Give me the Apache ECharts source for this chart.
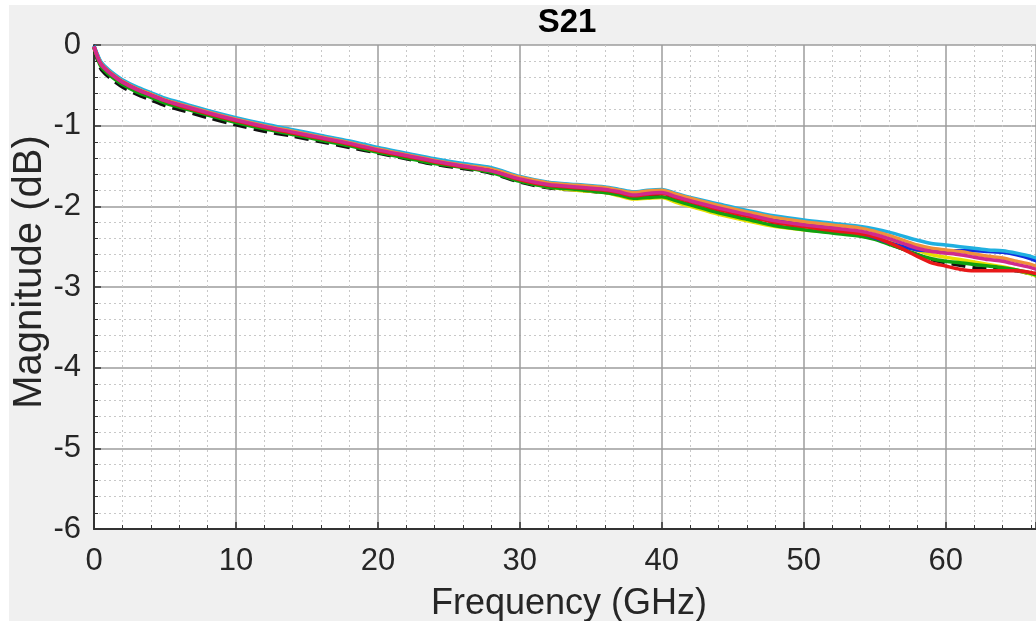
<!DOCTYPE html>
<html>
<head>
<meta charset="utf-8">
<script src="https://cdn.jsdelivr.net/npm/echarts@6/dist/echarts.min.js"></script>
<style>
html,body{margin:0;padding:0;background:#ffffff;width:1036px;height:621px;overflow:hidden;}
#c{position:absolute;left:9px;top:5px;width:1027px;height:616px;background:#f0f0f0;}
</style>
</head>
<body>
<div id="c"></div>
<script>
const freq = [0,0.25,0.5,1,1.5,2,3,4,5,6,8,10,12,14,16,18,20,22,24,26,28,30,32,34,36,37,38,39,40,41,42,44,46,48,50,52,54,55,56,57,58,59,60,61,62,63,64,65,66,67];
const blackDashed = [-0.03,-0.19,-0.30,-0.39,-0.46,-0.52,-0.61,-0.68,-0.75,-0.80,-0.90,-0.99,-1.07,-1.13,-1.20,-1.27,-1.34,-1.41,-1.48,-1.53,-1.59,-1.70,-1.77,-1.80,-1.83,-1.86,-1.90,-1.88,-1.87,-1.92,-1.97,-2.07,-2.15,-2.23,-2.28,-2.32,-2.36,-2.40,-2.46,-2.53,-2.60,-2.66,-2.70,-2.73,-2.76,-2.77,-2.78,-2.80,-2.84,-2.90];
const yellow = [-0.02,-0.15,-0.25,-0.34,-0.41,-0.47,-0.56,-0.63,-0.70,-0.75,-0.85,-0.94,-1.02,-1.09,-1.16,-1.23,-1.31,-1.38,-1.45,-1.51,-1.57,-1.68,-1.76,-1.80,-1.83,-1.87,-1.91,-1.90,-1.89,-1.95,-2.00,-2.10,-2.18,-2.25,-2.29,-2.32,-2.35,-2.38,-2.43,-2.49,-2.55,-2.60,-2.63,-2.66,-2.69,-2.72,-2.75,-2.79,-2.84,-2.90];
const green = [-0.03,-0.17,-0.27,-0.36,-0.43,-0.49,-0.58,-0.65,-0.72,-0.77,-0.87,-0.96,-1.04,-1.11,-1.18,-1.25,-1.33,-1.40,-1.47,-1.52,-1.58,-1.69,-1.76,-1.79,-1.83,-1.86,-1.90,-1.89,-1.88,-1.93,-1.98,-2.08,-2.16,-2.24,-2.29,-2.33,-2.37,-2.41,-2.47,-2.53,-2.60,-2.65,-2.68,-2.70,-2.72,-2.74,-2.76,-2.79,-2.83,-2.89];
const blue = [-0.01,-0.13,-0.22,-0.31,-0.38,-0.44,-0.53,-0.60,-0.67,-0.72,-0.82,-0.91,-0.99,-1.06,-1.13,-1.20,-1.28,-1.35,-1.42,-1.48,-1.53,-1.64,-1.71,-1.74,-1.78,-1.81,-1.85,-1.83,-1.82,-1.87,-1.92,-2.01,-2.09,-2.17,-2.22,-2.27,-2.33,-2.39,-2.45,-2.50,-2.54,-2.55,-2.55,-2.55,-2.55,-2.56,-2.57,-2.60,-2.65,-2.72];
const cyan = [-0.01,-0.12,-0.21,-0.30,-0.37,-0.43,-0.52,-0.59,-0.66,-0.71,-0.81,-0.90,-0.98,-1.05,-1.12,-1.19,-1.27,-1.34,-1.41,-1.47,-1.52,-1.63,-1.70,-1.73,-1.76,-1.79,-1.82,-1.80,-1.79,-1.84,-1.89,-1.97,-2.05,-2.12,-2.17,-2.21,-2.25,-2.28,-2.32,-2.37,-2.42,-2.46,-2.48,-2.50,-2.52,-2.54,-2.55,-2.58,-2.62,-2.68];
const orange = [-0.02,-0.14,-0.23,-0.32,-0.39,-0.45,-0.54,-0.61,-0.68,-0.73,-0.83,-0.92,-1.00,-1.07,-1.14,-1.21,-1.29,-1.36,-1.43,-1.49,-1.54,-1.64,-1.71,-1.74,-1.77,-1.80,-1.83,-1.81,-1.80,-1.85,-1.90,-1.99,-2.07,-2.14,-2.19,-2.23,-2.27,-2.31,-2.36,-2.42,-2.48,-2.52,-2.54,-2.56,-2.59,-2.62,-2.64,-2.68,-2.72,-2.78];
const red = [-0.02,-0.15,-0.24,-0.33,-0.40,-0.46,-0.55,-0.62,-0.69,-0.75,-0.85,-0.94,-1.02,-1.09,-1.16,-1.23,-1.31,-1.38,-1.45,-1.51,-1.56,-1.67,-1.74,-1.77,-1.80,-1.83,-1.87,-1.85,-1.84,-1.89,-1.94,-2.04,-2.12,-2.20,-2.25,-2.30,-2.34,-2.38,-2.45,-2.53,-2.62,-2.70,-2.74,-2.78,-2.80,-2.80,-2.80,-2.80,-2.82,-2.86];
const magenta = [-0.02,-0.15,-0.24,-0.33,-0.40,-0.46,-0.55,-0.62,-0.69,-0.74,-0.84,-0.93,-1.01,-1.08,-1.15,-1.22,-1.30,-1.37,-1.44,-1.50,-1.56,-1.66,-1.73,-1.76,-1.79,-1.82,-1.86,-1.84,-1.83,-1.88,-1.93,-2.02,-2.10,-2.18,-2.23,-2.27,-2.31,-2.35,-2.40,-2.46,-2.52,-2.56,-2.58,-2.60,-2.63,-2.66,-2.68,-2.72,-2.76,-2.82];
const xTicks = [0,10,20,30,40,50,60];
const yTicks = [0,-1,-2,-3,-4,-5,-6];

const seriesDefs = [
  {name:'K', data:blackDashed, color:'#111111', type:'dashed'},
  {name:'Y', data:yellow, color:'#e8e000', type:'solid'},
  {name:'G', data:green, color:'#10a010', type:'solid'},
  {name:'B', data:blue, color:'#1030e0', type:'solid'},
  {name:'C', data:cyan, color:'#20b0e0', type:'solid'},
  {name:'O', data:orange, color:'#f0903a', type:'solid'},
  {name:'R', data:red, color:'#e81818', type:'solid'},
  {name:'M', data:magenta, color:'#d02a8c', type:'solid'}
];

const chart = echarts.init(document.getElementById('c'));
const axisTxt = {color:'#262626', fontFamily:'Liberation Sans', fontSize:31};
chart.setOption({
  backgroundColor:'#f0f0f0',
  animation:false,
  title:{text:'S21', left:553, top:-4, textAlign:'center',
    textStyle:{fontFamily:'Liberation Sans', fontSize:33, fontWeight:'bold', color:'#000'}},
  grid:{left:85, top:40, right:0, bottom:92, show:true, backgroundColor:'#ffffff', borderWidth:0,
    containLabel:false, outerBoundsMode:'none'},
  xAxis:{type:'value', min:0, max:66.36, interval:10,
    name:'Frequency (GHz)', nameLocation:'middle', nameGap:57,
    nameTextStyle:{fontFamily:'Liberation Sans', fontSize:36, color:'#262626', padding:[0,0,0,8]},
    axisLine:{show:true, onZero:false, lineStyle:{color:'#333333', width:2}},
    axisTick:{show:true, inside:true, length:7, lineStyle:{color:'#333333', width:1.5}},
    minorTick:{show:true, splitNumber:5, length:4, lineStyle:{color:'#333333'}},
    axisLabel:Object.assign({margin:17, showMaxLabel:false,
      formatter:function(v){return xTicks.indexOf(v)>=0 ? String(v) : '';}}, axisTxt),
    splitLine:{show:true, lineStyle:{color:'#9c9c9c', width:1.5}},
    minorSplitLine:{show:true, lineStyle:{color:'#c8c8c8', type:[2,3], width:1}}
  },
  yAxis:{type:'value', min:-6, max:0, interval:1,
    name:'Magnitude (dB)', nameLocation:'middle', nameGap:44, nameRotate:90, nameMoveOverlap:false,
    nameTextStyle:{fontFamily:'Liberation Sans', fontSize:40, color:'#262626', padding:[0,0,0,30]},
    axisLine:{show:true, onZero:false, lineStyle:{color:'#333333', width:2}},
    axisTick:{show:true, inside:true, length:7, lineStyle:{color:'#333333', width:1.5}},
    minorTick:{show:true, splitNumber:5, length:4, lineStyle:{color:'#333333'}},
    axisLabel:Object.assign({margin:13,
      formatter:function(v){return yTicks.indexOf(v)>=0 ? String(v) : '';}}, axisTxt),
    splitLine:{show:true, lineStyle:{color:'#9c9c9c', width:1.5}},
    minorSplitLine:{show:true, lineStyle:{color:'#c8c8c8', type:[2,3], width:1}}
  },
  series: seriesDefs.map(function(s){
    return {name:s.name, type:'line', showSymbol:false, smooth:0.3,
      data:freq.map(function(f,i){return [f, s.data[i]];}),
      lineStyle:{color:s.color, width:3.5, type:s.type},
      itemStyle:{color:s.color}};
  })
});
</script>
</body>
</html>
